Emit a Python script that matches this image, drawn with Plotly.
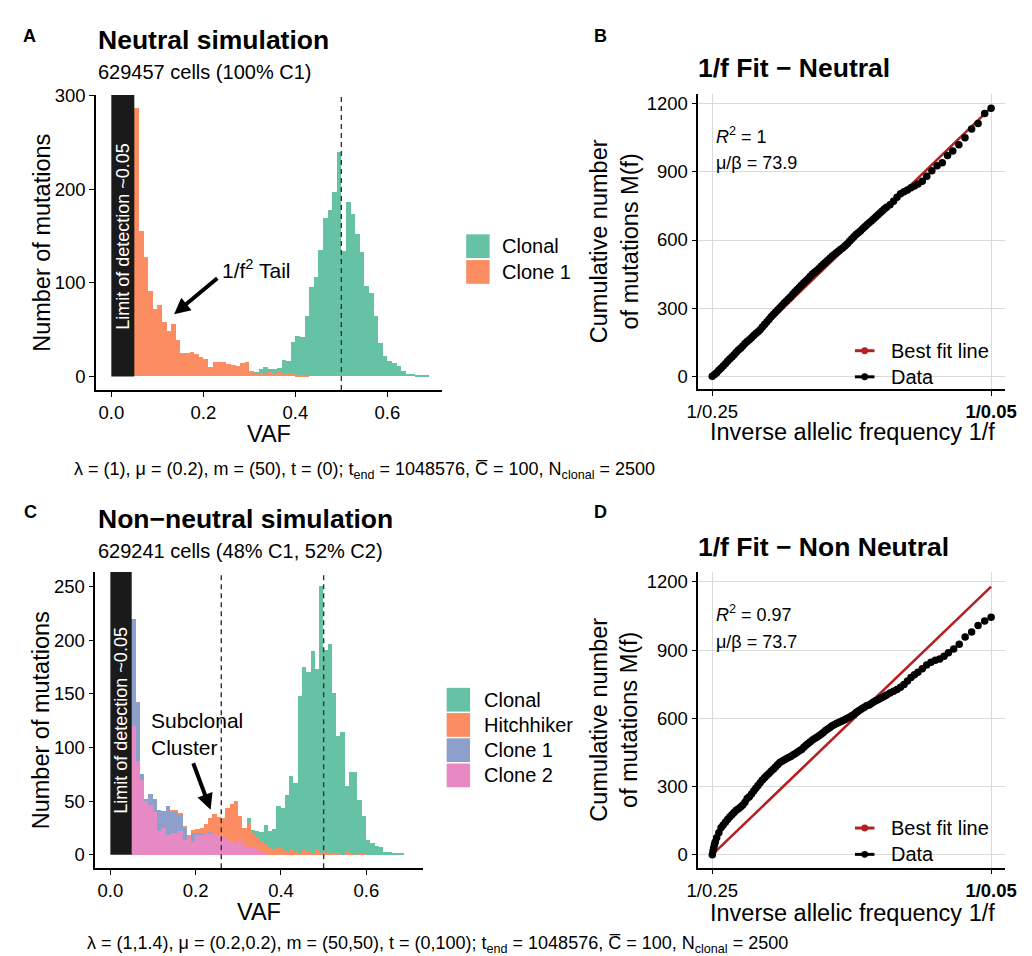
import plotly.graph_objects as go

W, H = 1032, 956
FONT = "Liberation Sans, Arial, Helvetica, sans-serif"


def fx(p):
    return p / W


def fy(p):
    return 1 - p / H


# ---------------- data ----------------
BIN_START = 0.05
BIN_WIDTH = 0.01
N_BINS = 64
vaf_centers = [round(BIN_START + BIN_WIDTH * (i + 0.5), 3) for i in range(N_BINS)]

# Panel A: neutral simulation (counts per VAF bin, 0.05 .. 0.69)
a_clone1 = [286, 155, 127, 91, 72, 76, 58, 49, 56, 39, 25, 25, 26, 24, 21, 19, 10, 15, 15, 15,
            13, 12, 11, 14, 15, 6,
            3, 4, 3, 5, 4, 5, 3, 4, 3, 2, 2, 1] + [0] * 26
a_clonal = [0] * 26 + [1, 4, 7, 3, 4, 4, 15, 12, 34, 41, 40, 63,
                       96, 106, 135, 169, 178, 197, 240, 134, 186, 173, 152, 133, 97, 89, 65,
                       36, 22, 17, 14, 11, 6, 3, 3, 2, 2, 2]

# Panel C: non-neutral simulation
c_clone2 = [120, 87, 70, 50, 46, 40, 22, 25, 18, 20, 20, 22, 14, 16, 12, 18, 18, 20, 20, 20,
            18, 16, 15, 12, 10, 14, 8, 6, 7, 4, 3, 2] + [0] * 32
c_clone1 = [100, 55, 5, 2, 11, 12, 20, 16, 27, 20, 20, 15, 11, 0, 8, 2, 2, 0, 1] + [0] * 45
c_hitch = [0] * 9 + [1, 1, 2, 1, 2, 3, 4, 5, 9, 13, 18, 17, 18, 29, 35, 40, 22, 17, 24, 12,
                     12, 10, 8, 6, 5, 6, 4, 3, 5, 3, 2, 4, 3, 2, 5, 2, 3, 2, 1, 2, 0, 3, 1, 0,
                     1, 1] + [0] * 9
c_clonal = [0] * 27 + [4, 4, 6, 8, 18, 16, 19, 39, 40, 53, 68, 64, 146, 171, 167, 188, 168, 248,
                       188, 194, 150, 109, 114, 61, 76, 77, 50, 35, 14, 11, 8, 7, 3, 3, 1, 1, 1]

# Panel B: 1/f fit, neutral (inverse allelic frequency, cumulative mutations)
b_invf = [4.0, 4.125, 4.25, 4.375, 4.5, 4.625, 4.75, 4.875, 5.0, 5.125, 5.25, 5.375, 5.5, 5.625,
          5.75, 5.875, 6.0, 6.125, 6.25, 6.375, 6.5, 6.625, 6.75, 6.875, 7.0, 7.125, 7.25, 7.375,
          7.5, 7.625, 7.75, 7.875, 8.0, 8.125, 8.25, 8.375, 8.5, 8.625, 8.75, 8.875, 9.0, 9.125,
          9.25, 9.375, 9.5, 9.625, 9.75, 9.875, 10.0, 10.125, 10.25, 10.375, 10.5, 10.625, 10.75,
          10.875, 11.0, 11.125, 11.25, 11.375, 11.5, 11.625, 11.75, 11.875, 12.0, 12.125, 12.25,
          12.375, 12.5, 12.625, 12.75, 12.875, 13.0, 13.125, 13.25, 13.375, 13.5, 13.625, 13.75,
          13.875, 14.0, 14.2, 14.4, 14.6, 14.8, 15.0, 15.2, 15.4, 15.6, 15.8, 16.05, 16.31, 16.6,
          16.9, 17.2, 17.5, 17.8, 18.15, 18.5, 18.88, 19.25, 19.63, 20.0]
b_M = [0, 8, 16, 27, 36, 46, 55, 66, 76, 85, 95, 106, 116, 124,
       133, 144, 153, 161, 170, 180, 188, 196, 205, 217, 228, 239, 250, 262,
       272, 282, 292, 302, 312, 323, 332, 341, 350, 362, 372, 382, 392, 402,
       412, 421, 430, 441, 450, 458, 466, 475, 484, 493, 502, 511, 520,
       528, 536, 544, 552, 559, 566, 575, 584, 594, 604, 614, 624,
       632, 640, 649, 658, 667, 676, 684, 692, 701, 710, 719, 728,
       736, 744, 755, 770, 788, 803, 812, 820, 830, 838, 846, 858, 881, 905,
       927, 940, 972, 992, 1019, 1050, 1089, 1113, 1157, 1180]
b_slope = 73.9

# Panel D: 1/f fit, non-neutral
d_invf = [4.0, 4.04, 4.08, 4.125, 4.17, 4.25, 4.375, 4.5, 4.625, 4.75, 4.875, 5.0, 5.125, 5.25,
          5.375, 5.5, 5.625, 5.75, 5.875, 6.0, 6.125, 6.25, 6.375, 6.5, 6.625, 6.75, 6.875, 7.0,
          7.125, 7.25, 7.375, 7.5, 7.625, 7.75, 7.875, 8.0, 8.125, 8.25, 8.375, 8.5, 8.625, 8.75,
          8.875, 9.0, 9.125, 9.25, 9.375, 9.5, 9.625, 9.75, 9.875, 10.0, 10.125, 10.25, 10.375,
          10.5, 10.625, 10.75, 10.875, 11.0, 11.125, 11.25, 11.375, 11.5, 11.625, 11.75, 11.875,
          12.0, 12.125, 12.25, 12.375, 12.5, 12.625, 12.75, 12.875, 13.0, 13.125, 13.25, 13.375,
          13.5, 13.625, 13.75, 13.875, 14.0, 14.2, 14.4, 14.6, 14.8, 15.0, 15.2, 15.4, 15.6, 15.8,
          16.05, 16.3, 16.55, 16.8, 17.05, 17.3, 17.55, 17.85, 18.17, 18.51, 18.88, 19.25, 19.63,
          20.0]
d_M = [0, 16, 31, 45, 56, 75, 96, 118, 131, 143, 155, 166, 176, 186,
       195, 202, 210, 219, 231, 247, 255, 267, 280, 292, 304, 316, 328, 338,
       348, 357, 367, 376, 386, 396, 405, 411, 417, 422, 427, 432, 438, 444,
       451, 457, 463, 473, 481, 489, 497, 504, 511, 517, 523, 530, 537,
       546, 553, 560, 567, 572, 577, 582, 586, 590, 595, 600, 605,
       611, 617, 625, 632, 638, 644, 650, 656, 659, 665, 672, 677,
       682, 687, 692, 697, 703, 711, 719, 727, 737, 749, 764, 779, 792, 803,
       818, 834, 847, 855, 861, 873, 888, 905, 926, 958, 980, 1008, 1028,
       1045]
d_slope = 73.7

fit_x = [4, 20]

COL_CLONAL = "#66C2A5"
COL_ORANGE = "#FC8D62"
COL_BLUE = "#8DA0CB"
COL_PINK = "#E78AC3"
COL_RED = "#B22222"

fig = go.Figure()

# Panel A bars (bottom to top)
for vals, col, name in [(a_clone1, COL_ORANGE, "Clone 1"), (a_clonal, COL_CLONAL, "Clonal")]:
    fig.add_trace(go.Bar(x=vaf_centers, y=vals, width=BIN_WIDTH, marker=dict(color=col, line=dict(width=0)),
                         name=name, xaxis="x", yaxis="y", showlegend=False))

# Panel C bars (bottom to top)
for vals, col, name in [(c_clone2, COL_PINK, "Clone 2"), (c_clone1, COL_BLUE, "Clone 1"),
                        (c_hitch, COL_ORANGE, "Hitchhiker"), (c_clonal, COL_CLONAL, "Clonal")]:
    fig.add_trace(go.Bar(x=vaf_centers, y=vals, width=BIN_WIDTH, marker=dict(color=col, line=dict(width=0)),
                         name=name, xaxis="x3", yaxis="y3", showlegend=False))

# Panel B
fig.add_trace(go.Scatter(x=fit_x, y=[b_slope * (v - fit_x[0]) for v in fit_x], mode="lines",
                         line=dict(color=COL_RED, width=2.6), xaxis="x2", yaxis="y2", showlegend=False))
fig.add_trace(go.Scatter(x=b_invf, y=b_M, mode="markers", marker=dict(color="black", size=7.5),
                         xaxis="x2", yaxis="y2", showlegend=False))
# Panel D
fig.add_trace(go.Scatter(x=fit_x, y=[d_slope * (v - fit_x[0]) for v in fit_x], mode="lines",
                         line=dict(color=COL_RED, width=2.6), xaxis="x4", yaxis="y4", showlegend=False))
fig.add_trace(go.Scatter(x=d_invf, y=d_M, mode="markers", marker=dict(color="black", size=7.5),
                         xaxis="x4", yaxis="y4", showlegend=False))

axis_style = dict(showline=True, linecolor="black", linewidth=1.5, ticks="outside", ticklen=5,
                  tickwidth=1.2, tickcolor="black", tickfont=dict(size=18.5, color="black", family=FONT),
                  showgrid=False, zeroline=False)
grid_style = dict(showgrid=True, gridcolor="#DADADA", gridwidth=1.4)

fig.update_layout(
    width=W, height=H, margin=dict(l=0, r=0, t=0, b=0),
    paper_bgcolor="white", plot_bgcolor="white",
    barmode="stack", bargap=0,
    font=dict(family=FONT, color="black"),
    xaxis=dict(domain=[fx(86), fx(440)], anchor="y", range=[-0.0333, 0.7183],
               tickvals=[0, 0.2, 0.4, 0.6], ticktext=["0.0", "0.2", "0.4", "0.6"], **axis_style),
    yaxis=dict(domain=[fy(384), fy(86)], anchor="x", range=[-14.3, 300.3],
               tickvals=[0, 100, 200, 300], **axis_style),
    xaxis2=dict(domain=[fx(702.7), fx(1016.7)], anchor="y2", range=[3.2, 20.8],
                tickvals=[4, 20], ticktext=["1/0.25", "<b>1/0.05</b>"], **{**axis_style, **grid_style}),
    yaxis2=dict(domain=[fy(383.3), fy(85)], anchor="x2", range=[-57, 1242],
                tickvals=[0, 300, 600, 900, 1200], **{**axis_style, **grid_style}),
    xaxis3=dict(domain=[fx(85.3), fx(420.7)], anchor="y3", range=[-0.0353, 0.7327],
                tickvals=[0, 0.2, 0.4, 0.6], ticktext=["0.0", "0.2", "0.4", "0.6"], **axis_style),
    yaxis3=dict(domain=[fy(867.3), fy(568)], anchor="x3", range=[-12.5, 263.5],
                tickvals=[0, 50, 100, 150, 200, 250], **axis_style),
    xaxis4=dict(domain=[fx(702.7), fx(1016.7)], anchor="y4", range=[3.2, 20.8],
                tickvals=[4, 20], ticktext=["1/0.25", "<b>1/0.05</b>"], **{**axis_style, **grid_style}),
    yaxis4=dict(domain=[fy(866.7), fy(568.3)], anchor="x4", range=[-57, 1242],
                tickvals=[0, 300, 600, 900, 1200], **{**axis_style, **grid_style}),
)

shapes = []
# limit-of-detection rectangles
shapes.append(dict(type="rect", xref="x", yref="y", x0=0, x1=BIN_START, y0=0, y1=300.3,
                   fillcolor="#1A1A1A", line=dict(width=0)))
shapes.append(dict(type="rect", xref="x3", yref="y3", x0=0, x1=BIN_START, y0=0, y1=263.5,
                   fillcolor="#1A1A1A", line=dict(width=0)))
# dashed reference lines
for xr, yr, xv in [("x", "y domain", 0.5), ("x3", "y3 domain", 0.26), ("x3", "y3 domain", 0.5)]:
    shapes.append(dict(type="line", xref=xr, yref=yr, x0=xv, x1=xv, y0=0, y1=1,
                       line=dict(color="#333333", width=1.4, dash="5px,4px")))

annotations = []


def pann(x, y, text, size, **kw):
    d = dict(xref="paper", yref="paper", x=fx(x), y=fy(y), text=text, showarrow=False,
             xanchor="center", yanchor="middle",
             font=dict(size=size, color=kw.pop("color", "black"), family=FONT))
    d.update(kw)
    annotations.append(d)


# histogram legends
legA = [("Clonal", COL_CLONAL, 226.7), ("Clone 1", COL_ORANGE, 252.7)]
legC = [("Clonal", COL_CLONAL, 685), ("Hitchhiker", COL_ORANGE, 710.5),
        ("Clone 1", COL_BLUE, 736), ("Clone 2", COL_PINK, 761.5)]
for items, kx, tx in [(legA, 465, 500), (legC, 445, 481)]:
    for name, col, top in items:
        shapes.append(dict(type="rect", xref="paper", yref="paper", x0=fx(kx), x1=fx(kx + 24),
                           y0=fy(top + 24), y1=fy(top), fillcolor=col, line=dict(width=0)))
        pann(tx, top + 12, name, 20, xanchor="left")

# fit legends (B, D)
for yb, yd in [(344.3, 370.7), (826.7, 853.3)]:
    for yy, col, name in [(yb, COL_RED, "Best fit line"), (yd, "black", "Data")]:
        shapes.append(dict(type="line", xref="paper", yref="paper", x0=fx(863), x1=fx(883),
                           y0=fy(yy), y1=fy(yy), line=dict(color=col, width=3)))
        shapes.append(dict(type="circle", xref="paper", yref="paper", x0=fx(869.5), x1=fx(876.5),
                           y0=fy(yy + 3.5), y1=fy(yy - 3.5), fillcolor=col, line=dict(width=0)))
        pann(898, yy, name, 20, xanchor="left")

# panel letters
pann(18, 26, "<b>A</b>", 18)
pann(602, 26, "<b>B</b>", 18)
pann(19, 507, "<b>C</b>", 18)
pann(602, 507, "<b>D</b>", 18)

# titles
pann(86, 30, "<b>Neutral simulation</b>", 26.5, xanchor="left")
pann(86, 63, "629457 cells (100% C1)", 20, xanchor="left")
pann(86, 514, "<b>Non\u2212neutral simulation</b>", 26.5, xanchor="left")
pann(86, 547, "629241 cells (48% C1, 52% C2)", 20, xanchor="left")
pann(700, 59, "<b>1/f Fit \u2212 Neutral</b>", 26.5, xanchor="left")
pann(700, 543, "<b>1/f Fit \u2212 Non Neutral</b>", 26.5, xanchor="left")

# axis titles
pann(263, 428, "VAF", 23.5)
pann(253, 912, "VAF", 23.5)
pann(30, 235, "Number of mutations", 23.5, textangle=-90)
pann(30, 717.5, "Number of mutations", 23.5, textangle=-90)
pann(860, 426, "Inverse allelic frequency 1/f", 23.5)
pann(860, 913, "Inverse allelic frequency 1/f", 23.5)
pann(617, 234, "Cumulative number<br>of mutations M(f)", 23.5, textangle=-90)
pann(617, 717.5, "Cumulative number<br>of mutations M(f)", 23.5, textangle=-90)

# fit statistics
pann(719, 127, "<i>R</i><sup>2</sup> = 1", 18, xanchor="left")
pann(719, 155, "\u03bc/\u03b2 = 73.9", 18, xanchor="left")
pann(719, 610, "<i>R</i><sup>2</sup> = 0.97", 18, xanchor="left")
pann(719, 638.5, "\u03bc/\u03b2 = 73.7", 18, xanchor="left")

# footnotes
pann(361, 465, "\u03bb = (1), \u03bc = (0.2), m = (50), t = (0); t<sub>end</sub> = 1048576, "
               "C\u0305 = 100, N<sub>clonal</sub> = 2500", 18)
pann(436, 944, "\u03bb = (1,1.4), \u03bc = (0.2,0.2), m = (50,50), t = (0,100); t<sub>end</sub> = 1048576, "
               "C\u0305 = 100, N<sub>clonal</sub> = 2500", 18)

# in-plot labels
annotations.append(dict(xref="x", yref="y", x=0.025, y=150, text="Limit of detection ~0.05",
                        textangle=-90, showarrow=False, font=dict(size=18, color="white")))
annotations.append(dict(xref="x3", yref="y3", x=0.025, y=125, text="Limit of detection ~0.05",
                        textangle=-90, showarrow=False, font=dict(size=18, color="white")))
annotations.append(dict(xref="x", yref="y", x=0.315, y=115, text="1/f<sup>2</sup> Tail",
                        showarrow=False, font=dict(size=21, color="black")))
annotations.append(dict(xref="x", yref="y", x=0.1365, y=66.5, ax=0.2336, ay=106.2,
                        axref="x", ayref="y", text="", showarrow=True, arrowhead=2,
                        arrowsize=0.8, arrowwidth=4, arrowcolor="black"))
annotations.append(dict(xref="x3", yref="y3", x=0.09, y=112.5, text="Subclonal<br>Cluster",
                        showarrow=False, xanchor="left", align="left",
                        font=dict(size=21, color="black")))
annotations.append(dict(xref="x3", yref="y3", x=0.235, y=42, ax=0.193, ay=86.7,
                        axref="x3", ayref="y3", text="", showarrow=True, arrowhead=2,
                        arrowsize=0.8, arrowwidth=4, arrowcolor="black"))

fig.update_layout(shapes=shapes, annotations=annotations)
fig.write_html("out.html")
